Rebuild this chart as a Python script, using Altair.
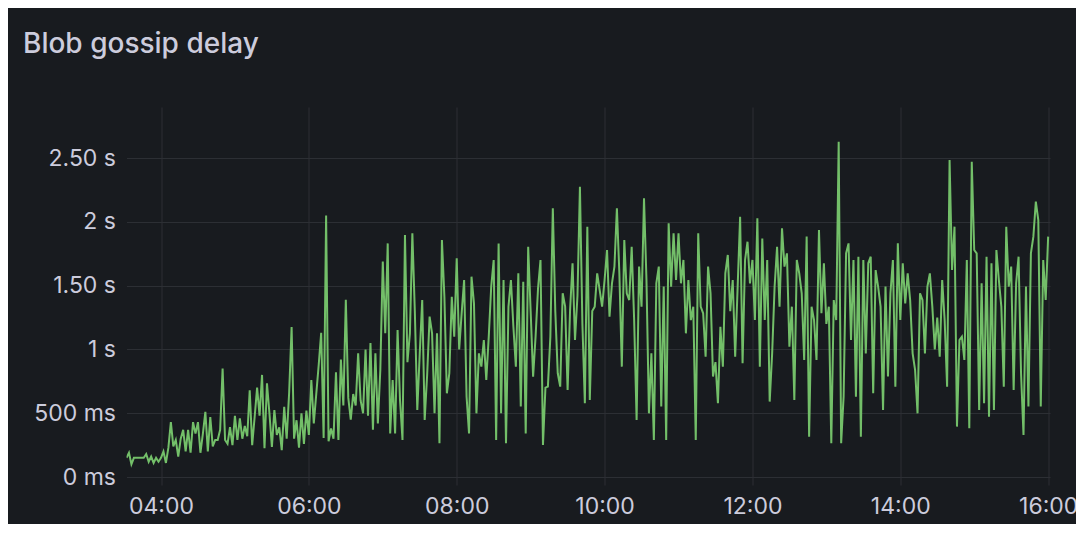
import altair as alt
import pandas as pd

# ---- data (blob gossip delay, milliseconds), one value every 2 minutes from 03:32 ----
START = "2024-01-01 03:32"
STEP = "2min"

delay_0332 = [150, 190, 100, 150, 150, 150, 150, 150, 180, 120, 160, 110, 150, 120]
delay_04 = [150, 200, 110, 230, 430, 240, 290, 160, 300, 370, 200, 370, 190, 430, 340,
            430, 190, 340, 510, 200, 470, 240, 290, 290, 370, 850, 290, 260, 390, 250]
delay_05 = [480, 290, 460, 300, 400, 320, 680, 250, 470, 700, 480, 800, 225, 735, 500,
            235, 525, 330, 390, 210, 550, 300, 660, 1175, 300, 445, 230, 500, 260, 520]
delay_06 = [330, 760, 420, 650, 880, 1130, 305, 2050, 280, 380, 300, 820, 290, 920, 560,
            1390, 620, 450, 650, 560, 970, 600, 500, 1000, 480, 1050, 370, 970, 420, 840]
delay_07 = [1688, 1126, 1831, 342, 760, 342, 1152, 600, 290, 1897, 900, 1126, 1910, 1300, 525,
            969, 1387, 447, 800, 1257, 1126, 499, 1126, 264, 1858, 1413, 656, 813, 1413, 1100]
delay_08 = [1714, 1000, 1283, 1544, 630, 342, 1570, 1361, 499, 969, 865, 1074, 761, 1100, 1492,
            1700, 290, 1831, 499, 1544, 264, 1335, 1544, 1178, 865, 1596, 552, 1531, 342, 1805]
delay_09 = [1300, 787, 1100, 1479, 1701, 251, 700, 708, 1100, 2106, 1300, 813, 708, 1440, 1335,
            682, 1309, 1675, 1074, 1420, 2275, 1200, 578, 1962, 604, 1300, 1335, 1596, 1466, 1335]
delay_10 = [1544, 1779, 1257, 1518, 1649, 2106, 1596, 865, 1858, 1440, 1387, 1805, 1230, 447, 1649,
            1335, 2184, 1544, 499, 969, 290, 1518, 1649, 552, 1492, 290, 1988, 1492, 1910, 1544]
delay_11 = [1910, 1518, 1701, 1126, 1544, 1230, 1335, 290, 1910, 1335, 1283, 943, 1649, 1440, 787,
            900, 578]
delay_1134 = [1178, 865, 1596, 1740, 1300, 1544, 943, 1492, 2040, 891,
              1701, 1844, 1518, 1701, 1230, 2027, 865, 1870, 1230, 1701,
              591, 969, 1492, 1805, 1335, 1949, 1649, 1753, 1022, 1335,
              604, 1701, 1596, 1440, 917, 1884, 316, 1335, 1230, 917,
              1936, 1283, 1675, 1200, 1335, 264, 1387, 1230, 2628, 264,
              630, 1753, 1831, 1074, 1701, 630, 1727, 316, 1701, 969,
              1675, 1727, 656, 1622, 1492, 1335, 525, 1492, 787, 1440,
              1701, 708, 1831, 1230, 1675, 1361, 1596, 1387, 969, 839,
              499, 1440, 1387, 969, 1492, 1596, 1335, 1000, 1250, 943,
              1544, 1230, 708, 2484, 1622, 1962, 395, 1074, 1100, 917,
              1701, 382, 2471, 1779, 1753, 525, 1518, 578, 1727, 473,
              1675, 525, 1779, 1544, 1335, 708, 1962, 1492, 1649, 682,
              1518, 1727, 813, 329, 1492, 552, 1753, 1884, 2158, 2014,
              552, 1701, 1387, 1884]

y_ticks = [0, 500, 1000, 1500, 2000, 2500]
y_tick_labels = ["0 ms", "500 ms", "1 s", "1.50 s", "2 s", "2.50 s"]
x_tick_labels = ["04:00", "06:00", "08:00", "10:00", "12:00", "14:00", "16:00"]

# ---- build table ----
segments = [delay_0332, delay_04, delay_05, delay_06, delay_07, delay_08,
            delay_09, delay_10, delay_11, delay_1134]
values = [v for seg in segments for v in seg]
times = pd.date_range(START, periods=len(values), freq=STEP)
df = pd.DataFrame({"time": times.strftime("%Y-%m-%dT%H:%M:%S"), "delay": values})

label_expr = " : ".join(
    f"datum.value == {v} ? '{t}'" for v, t in zip(y_ticks, y_tick_labels)
) + " : ''"

x_values = [alt.DateTime(year=2024, month=1, date=1, hours=int(t[:2]), minutes=int(t[3:]))
            for t in x_tick_labels]

BG = "#181b1f"
GRID = "#2c2f34"
TEXT = "#ccccdc"
GREEN = "#73bf69"
FONT = "Inter"

chart = alt.Chart(df).mark_line(
    color=GREEN, strokeWidth=2, interpolate="linear", clip=True
).encode(
    x=alt.X(
        "time:T",
        scale=alt.Scale(domain=[
            alt.DateTime(year=2024, month=1, date=1, hours=3, minutes=32),
            alt.DateTime(year=2024, month=1, date=1, hours=16, minutes=1, seconds=30),
        ]),
        axis=alt.Axis(
            values=x_values, format="%H:%M", title=None, domain=False,
            grid=True, gridColor=GRID, gridWidth=1,
            ticks=True, tickColor=GRID, tickSize=8, tickWidth=1,
            labelColor=TEXT, labelFontSize=23, labelFont=FONT, labelPadding=10,
            labelFlush=False, labelOverlap=False,
        ),
    ),
    y=alt.Y(
        "delay:Q",
        scale=alt.Scale(domain=[0, 2900], nice=False, zero=True),
        axis=alt.Axis(
            values=y_ticks, labelExpr=label_expr, title=None, domain=False,
            grid=True, gridColor=GRID, gridWidth=1, ticks=False,
            labelColor=TEXT, labelFontSize=23, labelFont=FONT, labelPadding=11,
            labelFlush=False, labelOverlap=False,
        ),
    ),
).properties(
    width=923.5,
    height=370,
    background=BG,
    autosize=alt.AutoSizeParams(type="none"),
    padding={"left": 118.5, "top": 99, "right": 26, "bottom": 47},
    title=alt.TitleParams(
        "Blob gossip delay", anchor="start", frame="group", dx=-103.5,
        offset=26, baseline="alphabetic", color=TEXT, fontSize=28,
        fontWeight=500, font=FONT,
    ),
).configure_view(strokeWidth=0)

chart.save("out.html", embed_options={"renderer": "svg", "actions": False})
